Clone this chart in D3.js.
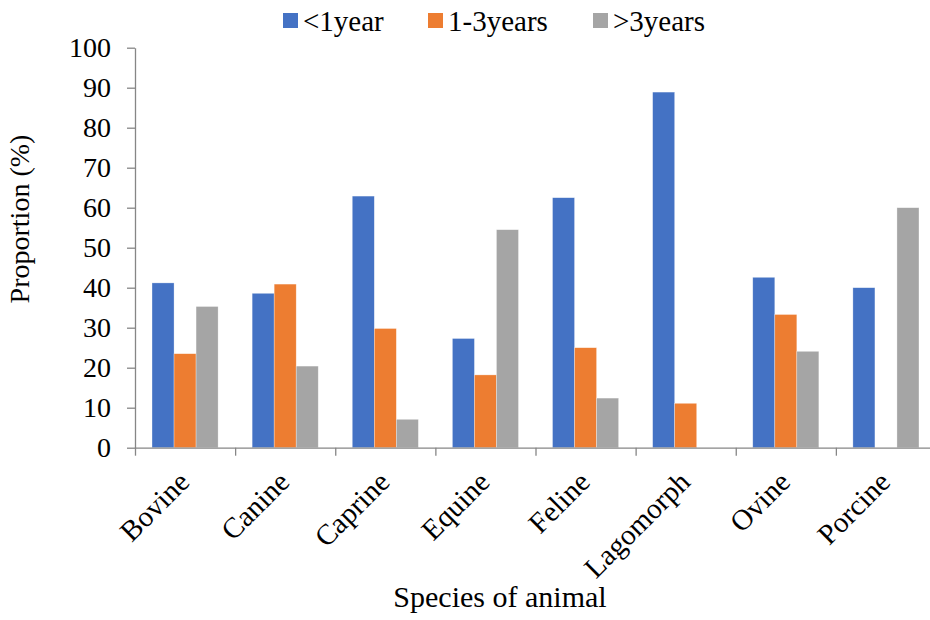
<!DOCTYPE html>
<html>
<head>
<meta charset="utf-8">
<script src="https://cdn.jsdelivr.net/npm/d3@7"></script>
<style>
  body { margin: 0; background: #fff; }
  svg text { font-family: "Liberation Serif", "Times New Roman", serif; fill: #000; }
</style>
</head>
<body>
<div id="chart"></div>
<script>
// data
const categories = ["Bovine", "Canine", "Caprine", "Equine", "Feline", "Lagomorph", "Ovine", "Porcine"];
const seriesNames = ["<1year", "1-3years", ">3years"];
const lessThan1 = [41.2, 38.6, 62.9, 27.3, 62.5, 88.9, 42.6, 40.0];
const oneToThree = [23.5, 40.9, 29.8, 18.2, 25.0, 11.1, 33.3, 0];
const moreThan3 = [35.3, 20.4, 7.1, 54.5, 12.4, 0, 24.1, 60.0];
const yTicks = [0, 10, 20, 30, 40, 50, 60, 70, 80, 90, 100];
const colors = ["#4472C4", "#ED7D31", "#A5A5A5"];

const rows = categories.map((c, i) => ({
    cat: c,
    vals: [lessThan1[i], oneToThree[i], moreThan3[i]]
}));

// kích thước
const W = 930, H = 620;
const plotLeft = 135, plotRight = 936, plotTop = 47.7, plotBottom = 447.7;
const axisColor = "#868686";
const serif = "'Liberation Serif', 'Times New Roman', serif";

const svg = d3.select("#chart").append("svg")
    .attr("width", W)
    .attr("height", H)
    .attr("font-family", serif);

const x0 = d3.scaleBand().domain(categories).range([plotLeft, plotRight])
    .paddingInner(0.34).paddingOuter(0.17);
const x1 = d3.scaleBand().domain(d3.range(3)).range([0, x0.bandwidth()]);
const xLin = d3.scaleLinear().domain([0, categories.length]).range([plotLeft, plotRight]);
const y = d3.scaleLinear().domain([0, 100]).range([plotBottom, plotTop]);
const color = d3.scaleOrdinal().domain(d3.range(3)).range(colors);

// bars
const groups = svg.selectAll(".grp")
    .data(rows)
    .enter().append("g")
    .attr("class", "grp")
    .attr("transform", d => `translate(${x0(d.cat)},0)`);

groups.selectAll("rect")
    .data(d => d.vals.map((v, k) => ({k: k, v: v})).filter(e => e.v > 0))
    .enter().append("rect")
    .attr("x", e => x1(e.k))
    .attr("y", e => y(e.v))
    .attr("width", x1.bandwidth())
    .attr("height", e => plotBottom - y(e.v))
    .attr("fill", e => color(e.k))
    .attr("stroke", "#fff")
    .attr("stroke-opacity", 0.5)
    .attr("stroke-width", 0.6);

// trục Y
const yAxis = svg.append("g")
    .attr("transform", `translate(${plotLeft},0)`)
    .call(d3.axisLeft(y).tickValues(yTicks).tickSize(8).tickSizeOuter(0).tickPadding(16));
yAxis.attr("font-family", serif).attr("font-size", 28);
yAxis.select(".domain").attr("stroke", axisColor).attr("stroke-width", 1.3);
yAxis.selectAll(".tick line").attr("stroke", axisColor).attr("stroke-width", 1.3);
yAxis.selectAll("text").attr("fill", "#000");

// trục X (vạch chia giữa các nhóm)
const xAxis = svg.append("g")
    .attr("transform", `translate(0,${plotBottom})`)
    .call(d3.axisBottom(xLin).tickValues(d3.range(categories.length)).tickSize(8).tickSizeOuter(0).tickFormat(""));
xAxis.select(".domain").attr("stroke", axisColor).attr("stroke-width", 1.3);
xAxis.selectAll(".tick line").attr("stroke", axisColor).attr("stroke-width", 1.3);

// nhãn nghiêng
svg.selectAll(".xlab")
    .data(categories)
    .enter().append("text")
    .attr("class", "xlab")
    .attr("text-anchor", "end")
    .attr("font-size", 29)
    .attr("transform", d => {
        const cx = x0(d) + x0.bandwidth() / 2 + 6;
        return `translate(${cx},${plotBottom + 36}) rotate(-45)`;
    })
    .text(d => d);

// tiêu đề trục
svg.append("text")
    .attr("x", 500)
    .attr("y", 607)
    .attr("text-anchor", "middle")
    .attr("font-size", 30)
    .text("Species of animal");

svg.append("text")
    .attr("transform", "translate(29,219) rotate(-90)")
    .attr("text-anchor", "middle")
    .attr("font-size", 28)
    .text("Proportion (%)");

// chú thích
const legendX = [283, 428, 593];
const legend = svg.selectAll(".leg")
    .data(seriesNames)
    .enter().append("g")
    .attr("class", "leg")
    .attr("transform", (d, i) => `translate(${legendX[i]},13)`);

legend.append("rect")
    .attr("width", 15)
    .attr("height", 15)
    .attr("fill", (d, i) => colors[i]);

legend.append("text")
    .attr("x", 20)
    .attr("y", 18)
    .attr("font-size", 29)
    .text(d => d);
</script>
</body>
</html>
